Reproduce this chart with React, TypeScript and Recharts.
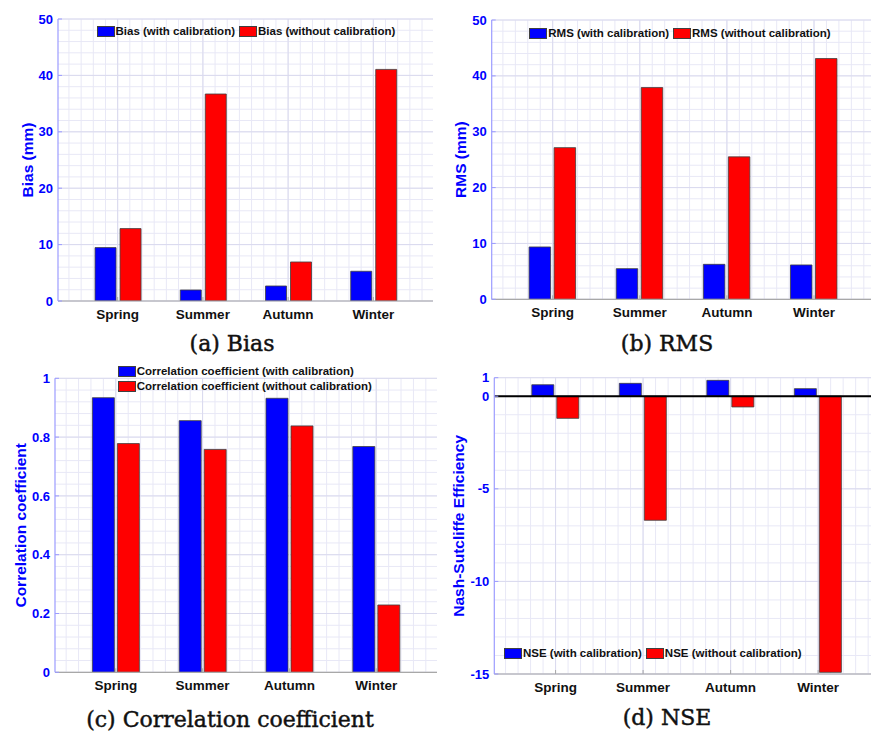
import React from 'react';
import { BarChart, Bar, XAxis, YAxis, CartesianGrid, Legend, ReferenceLine } from 'recharts';

// ---------- data ----------
const seasons = ['Spring', 'Summer', 'Autumn', 'Winter'];
const seasonPos = [1, 2, 3, 4];

const biasWith = [9.47, 1.95, 2.66, 5.27];
const biasWithout = [12.84, 36.7, 6.92, 41.06];

const rmsWith = [9.37, 5.49, 6.26, 6.15];
const rmsWithout = [27.15, 37.9, 25.5, 43.1];

const corrWith = [0.934, 0.856, 0.932, 0.768];
const corrWithout = [0.778, 0.758, 0.838, 0.229];

const nseWith = [0.62, 0.695, 0.857, 0.41];
const nseWithout = [-1.195, -6.7, -0.58, -14.91];

const biasTicks = [0, 10, 20, 30, 40, 50];
const rmsTicks = [0, 10, 20, 30, 40, 50];
const corrTicks = [0, 0.2, 0.4, 0.6, 0.8, 1];
const nseTicks = [-15, -10, -5, 0, 1];

const titles = ['(a) Bias', '(b) RMS', '(c) Correlation coefficient', '(d) NSE'];

// ---------- styling helpers ----------
const SANS = 'Liberation Sans, Arial, Helvetica, sans-serif';
const SERIF = 'DejaVu Serif, serif';
const BLUE = '#0000FF';
const RED = '#FF0000';
const AXIS_GRAY = '#A8A8A8';
const AXIS_BLUE = '#9C9CFF';
const X_DOMAIN: [number, number] = [0.3, 4.7];

function range(start: number, end: number, step: number): number[] {
  const out: number[] = [];
  const n = Math.round((end - start) / step);
  for (let i = 0; i <= n; i++) out.push(+(start + i * step).toFixed(6));
  return out;
}

const xMinor: number[] = [];
for (let k = 3; k <= 32; k++) xMinor.push(k / 7);

type LegendCfg = { left: number; top: number; vertical: boolean; rowH: number };

type PanelProps = {
  left: number;
  top: number;
  width: number;
  height: number;
  margin: { top: number; right: number; bottom: number; left: number };
  withVals: number[];
  withoutVals: number[];
  withName: string;
  withoutName: string;
  yDomain: [number, number];
  yTicks: number[];
  yMinor: number[];
  yLabel: string;
  labelX: number;
  legend: LegendCfg;
  barSize: number;
  barGap: number;
  zeroLine?: boolean;
};

const makeLegend = (cfg: LegendCfg) => (props: any) => {
  const payload = props.payload || [];
  return (
    <div
      style={{
        display: 'flex',
        flexDirection: cfg.vertical ? 'column' : 'row',
        alignItems: 'flex-start',
        fontFamily: SANS,
      }}
    >
      {payload.map((e: any, i: number) => (
        <div
          key={i}
          style={{
            display: 'flex',
            alignItems: 'center',
            height: cfg.rowH,
            marginRight: cfg.vertical ? 0 : 4,
          }}
        >
          <span
            style={{
              display: 'inline-block',
              width: 18,
              height: 11,
              background: e.color,
              border: '1px solid #404040',
              boxSizing: 'border-box',
              marginRight: 1,
            }}
          />
          <span
            style={{
              fontSize: 11.5,
              fontWeight: 700,
              color: '#111',
              whiteSpace: 'nowrap',
              lineHeight: '13px',
            }}
          >
            {e.value}
          </span>
        </div>
      ))}
    </div>
  );
};

function Panel(p: PanelProps) {
  const data = seasonPos.map((x, i) => ({
    x,
    season: seasons[i],
    w: p.withVals[i],
    wo: p.withoutVals[i],
  }));
  const fmtSeason = (v: number) => {
    const idx = seasonPos.indexOf(v);
    return idx >= 0 ? seasons[idx] : '';
  };
  const yLabelContent = (lp: any) => {
    const vb = lp.viewBox || {};
    const plotH = p.height - p.margin.top - p.margin.bottom - 30;
    const cy = vb.height ? vb.y + vb.height / 2 : p.margin.top + plotH / 2;
    const cx = p.labelX;
    return (
      <text
        x={cx}
        y={cy}
        transform={`rotate(-90 ${cx} ${cy})`}
        textAnchor="middle"
        dominantBaseline="central"
        fill={BLUE}
        fontSize={15.5}
        fontWeight={700}
        fontFamily={SANS}
      >
        {p.yLabel}
      </text>
    );
  };
  return (
    <div style={{ position: 'absolute', left: p.left, top: p.top, width: p.width, height: p.height }}>
      <BarChart
        width={p.width}
        height={p.height}
        data={data}
        margin={p.margin}
        barGap={p.barGap}
        barSize={p.barSize}
      >
        <CartesianGrid
          xAxisId="b"
          yAxisId="l"
          horizontalValues={p.yMinor}
          verticalValues={xMinor}
          stroke="#E8E8F6"
          strokeWidth={1}
        />
        <CartesianGrid
          xAxisId="b"
          yAxisId="l"
          horizontalValues={p.yTicks}
          verticalValues={seasonPos}
          stroke="#DADAEE"
          strokeWidth={1}
        />
        <XAxis
          xAxisId="b"
          type="number"
          dataKey="x"
          domain={X_DOMAIN}
          ticks={seasonPos}
          interval={0}
          allowDataOverflow
          tickFormatter={fmtSeason}
          height={30}
          axisLine={{ stroke: AXIS_GRAY, strokeWidth: 1.2 }}
          tickLine={{ stroke: AXIS_GRAY }}
          tickSize={-4}
          tickMargin={12}
          tick={{ fill: '#111', fontSize: 13.5, fontWeight: 700, fontFamily: SANS }}
        />
        <XAxis
          xAxisId="t"
          orientation="top"
          type="number"
          dataKey="x"
          domain={X_DOMAIN}
          ticks={seasonPos}
          interval={0}
          allowDataOverflow
          height={0}
          axisLine={{ stroke: AXIS_GRAY, strokeWidth: 1.2 }}
          tickLine={{ stroke: AXIS_GRAY }}
          tickSize={-4}
          tick={false}
        />
        <YAxis
          yAxisId="l"
          type="number"
          domain={p.yDomain}
          ticks={p.yTicks}
          interval={0}
          allowDataOverflow
          width={50}
          axisLine={{ stroke: AXIS_BLUE, strokeWidth: 1.2 }}
          tickLine={{ stroke: AXIS_BLUE }}
          tickSize={-4}
          tickMargin={9}
          tick={{ fill: BLUE, fontSize: 13, fontWeight: 700, fontFamily: SANS }}
          label={{ value: p.yLabel, position: 'center', content: yLabelContent }}
        />
        <YAxis
          yAxisId="r"
          orientation="right"
          type="number"
          domain={p.yDomain}
          ticks={p.yTicks}
          interval={0}
          allowDataOverflow
          width={0}
          axisLine={{ stroke: AXIS_GRAY, strokeWidth: 1.2 }}
          tickLine={{ stroke: AXIS_BLUE }}
          tickSize={-4}
          tick={false}
        />
        <Bar
          xAxisId="b"
          yAxisId="l"
          dataKey="w"
          name={p.withName}
          fill={BLUE}
          stroke="#404040"
          strokeWidth={0.8}
          isAnimationActive={false}
        />
        <Bar
          xAxisId="b"
          yAxisId="l"
          dataKey="wo"
          name={p.withoutName}
          fill={RED}
          stroke="#404040"
          strokeWidth={0.8}
          isAnimationActive={false}
        />
        {p.zeroLine ? (
          <ReferenceLine xAxisId="b" yAxisId="l" y={0} stroke="#000" strokeWidth={2} />
        ) : null}
        <Legend
          layout="vertical"
          align="center"
          verticalAlign="middle"
          content={makeLegend(p.legend)}
          wrapperStyle={{
            position: 'absolute',
            left: p.legend.left,
            top: p.legend.top,
            width: 'auto',
            height: 'auto',
            margin: 0,
            padding: 0,
          }}
        />
      </BarChart>
    </div>
  );
}

const titleStyle = {
  fontFamily: SERIF,
  fontSize: 22,
  fill: '#111',
  stroke: '#111',
  strokeWidth: 0.45,
} as const;

export default function App() {
  return (
    <div
      style={{
        position: 'absolute',
        left: 0,
        top: 0,
        width: 871,
        height: 735,
        overflow: 'hidden',
        background: '#fff',
      }}
    >
      <Panel
        left={0}
        top={0}
        width={450}
        height={340}
        margin={{ top: 19, right: 17, bottom: 9, left: 8 }}
        withVals={biasWith}
        withoutVals={biasWithout}
        withName="Bias (with calibration)"
        withoutName="Bias (without calibration)"
        yDomain={[0, 50]}
        yTicks={biasTicks}
        yMinor={range(0, 50, 2)}
        yLabel="Bias (mm)"
        labelX={27}
        legend={{ left: 96.5, top: 25, vertical: false, rowH: 13 }}
        barSize={21}
        barGap={4}
      />
      <Panel
        left={435}
        top={0}
        width={445}
        height={340}
        margin={{ top: 20, right: 5, bottom: 10.7, left: 6.7 }}
        withVals={rmsWith}
        withoutVals={rmsWithout}
        withName="RMS (with calibration)"
        withoutName="RMS (without calibration)"
        yDomain={[0, 50]}
        yTicks={rmsTicks}
        yMinor={range(0, 50, 2)}
        yLabel="RMS (mm)"
        labelX={26}
        legend={{ left: 94.3, top: 26.5, vertical: false, rowH: 13 }}
        barSize={21.5}
        barGap={3.5}
      />
      <Panel
        left={0}
        top={340}
        width={450}
        height={395}
        margin={{ top: 38.3, right: 13, bottom: 32.7, left: 5 }}
        withVals={corrWith}
        withoutVals={corrWithout}
        withName="Correlation coefficient (with calibration)"
        withoutName="Correlation coefficient (without calibration)"
        yDomain={[0, 1]}
        yTicks={corrTicks}
        yMinor={range(0, 1, 0.04)}
        yLabel="Correlation coefficient"
        labelX={21}
        legend={{ left: 117.7, top: 23.5, vertical: true, rowH: 15 }}
        barSize={22}
        barGap={3}
      />
      <Panel
        left={435}
        top={340}
        width={450}
        height={395}
        margin={{ top: 37.7, right: 5.6, bottom: 31, left: 9.3 }}
        withVals={nseWith}
        withoutVals={nseWithout}
        withName="NSE (with calibration)"
        withoutName="NSE (without calibration)"
        yDomain={[-15, 1]}
        yTicks={nseTicks}
        yMinor={range(-15, 1, 1)}
        yLabel="Nash-Sutcliffe Efficiency"
        labelX={24}
        legend={{ left: 69, top: 307, vertical: false, rowH: 13 }}
        barSize={22}
        barGap={3}
        zeroLine
      />
      <svg
        width={871}
        height={735}
        style={{ position: 'absolute', left: 0, top: 0, pointerEvents: 'none' }}
      >
        <text x={232} y={351} textAnchor="middle" {...titleStyle}>
          {titles[0]}
        </text>
        <text x={667} y={351} textAnchor="middle" {...titleStyle}>
          {titles[1]}
        </text>
        <text x={230} y={727} textAnchor="middle" {...titleStyle}>
          {titles[2]}
        </text>
        <text x={667} y={725} textAnchor="middle" {...titleStyle}>
          {titles[3]}
        </text>
      </svg>
    </div>
  );
}
